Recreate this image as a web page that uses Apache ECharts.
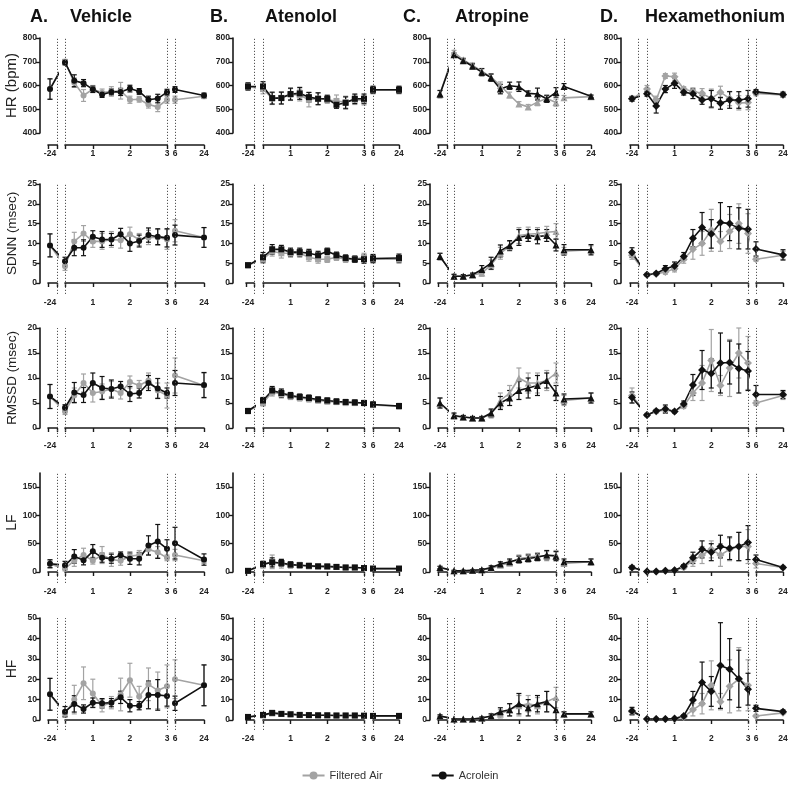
<!DOCTYPE html>
<html><head><meta charset="utf-8">
<script src="https://cdn.jsdelivr.net/npm/echarts@6/dist/echarts.min.js"></script>
<style>html,body{margin:0;padding:0;background:#fff}#c{width:800px;height:793px}</style>
</head><body><div id="c"></div><script>
// ---------- data ----------
const times = [-24, 0.25, 0.5, 0.75, 1, 1.25, 1.5, 1.75, 2, 2.25, 2.5, 2.75, 3, 6, 24];
const treatments = ['Vehicle', 'Atenolol', 'Atropine', 'Hexamethonium'];
const letters = ['A.', 'B.', 'C.', 'D.'];
const measures = ['HR (bpm)', 'SDNN (msec)', 'RMSSD (msec)', 'LF', 'HF'];
const yMins = [400, 0, 0, 0, 0];
const yMaxs = [800, 25, 20, 175, 50];
const yTickLabels = [
  [400, 500, 600, 700, 800],
  [0, 5, 10, 15, 20, 25],
  [0, 5, 10, 15, 20],
  [0, 50, 100, 150],
  [0, 10, 20, 30, 40, 50]
];
const seg1Labels = [-24];
const seg2Labels = [1, 2, 3];
const seg3Labels = [6, 24];

// HR
const A_HR_air = [585, 700, 612, 558, 585, 570, 575, 578, 540, 542, 520, 510, 540, 540, 555];
const A_HR_airErr = [43, 10, 20, 25, 15, 15, 20, 35, 15, 12, 15, 20, 15, 15, 10];
const A_HR_acr = [585, 697, 620, 610, 584, 562, 573, 573, 587, 575, 540, 545, 572, 583, 558];
const A_HR_acrErr = [43, 10, 25, 15, 13, 12, 12, 15, 14, 12, 15, 18, 12, 12, 10];
const B_HR_air = [596, 585, 545, 548, 562, 560, 540, 545, 540, 535, 530, 540, 538, 580, 580];
const B_HR_airErr = [15, 20, 25, 25, 25, 25, 30, 25, 15, 25, 25, 20, 20, 15, 15];
const B_HR_acr = [596, 596, 547, 547, 564, 567, 551, 544, 544, 519, 527, 544, 544, 582, 582];
const B_HR_acrErr = [15, 20, 25, 25, 25, 25, 20, 25, 15, 15, 25, 20, 20, 15, 15];
const C_HR_air = [564, 740, 708, 685, 660, 635, 600, 560, 522, 510, 530, 545, 528, 548, 553];
const C_HR_airErr = [15, 8, 8, 10, 12, 15, 15, 12, 10, 10, 15, 12, 15, 10, 5];
const C_HR_acr = [564, 729, 704, 681, 656, 633, 585, 599, 595, 567, 564, 544, 571, 596, 555];
const C_HR_acrErr = [15, 8, 8, 10, 15, 15, 20, 15, 20, 10, 25, 15, 20, 12, 5];
const D_HR_air = [544, 585, 540, 640, 637, 585, 575, 567, 545, 572, 545, 527, 528, 567, 560];
const D_HR_airErr = [10, 15, 15, 10, 15, 10, 15, 20, 40, 25, 30, 30, 30, 10, 8];
const D_HR_acr = [544, 565, 514, 585, 610, 572, 565, 539, 544, 525, 539, 539, 544, 573, 562];
const D_HR_acrErr = [10, 10, 30, 15, 22, 12, 20, 18, 35, 25, 35, 35, 35, 10, 10];
// SDNN
const A_SDNN_air = [9.5, 4.2, 10.5, 12.5, 10.5, 10.5, 11, 10.8, 12.3, 11, 11.5, 11.5, 11, 13.2, 11.5];
const A_SDNN_airErr = [2.9, 1, 2.3, 2, 1.5, 2, 2, 2, 1.8, 1.5, 1.8, 2, 2.5, 2.8, 2.5];
const A_SDNN_acr = [9.5, 5.5, 8.9, 8.9, 11.7, 11, 11, 12.3, 10, 10.6, 12.1, 11.7, 11.4, 12.1, 11.5];
const A_SDNN_acrErr = [2.9, 1, 2, 2, 1.5, 2, 1.5, 1.5, 2, 1.5, 1.8, 2, 2.3, 2.5, 2.5];
const B_SDNN_air = [4.5, 6.0, 8.0, 7.5, 7.5, 7.5, 6.5, 6.0, 6.0, 6.5, 6.0, 6.0, 6.5, 6.0, 6.0];
const B_SDNN_airErr = [0.6, 1, 1.2, 1.2, 1, 1, 1, 1, 0.8, 0.8, 0.8, 0.8, 1, 1, 1];
const B_SDNN_acr = [4.5, 6.5, 8.5, 8.5, 7.8, 7.8, 7.5, 7.0, 8.0, 7.0, 6.3, 6.0, 6.0, 6.2, 6.3];
const B_SDNN_acrErr = [0.6, 1.2, 1.2, 1, 1, 1, 1, 1, 0.8, 0.8, 0.8, 0.8, 1, 1, 1];
const C_SDNN_air = [6.7, 1.7, 1.7, 2.0, 2.5, 4.6, 7.5, 9.3, 12.0, 12.3, 12.5, 12.8, 13.0, 8.0, 8.4];
const C_SDNN_airErr = [0.8, 0.4, 0.4, 0.4, 0.8, 1.2, 1.5, 1.2, 2, 1.8, 1.5, 1.5, 2, 1, 1];
const C_SDNN_acr = [6.7, 1.7, 1.7, 2.1, 3.4, 5.0, 8.1, 9.5, 11.5, 12.0, 11.7, 12.0, 9.6, 8.4, 8.4];
const C_SDNN_acrErr = [0.8, 0.5, 0.4, 0.4, 1, 1.5, 1.5, 1.2, 2, 1.5, 1.8, 1.5, 1.5, 1.3, 1.3];
const D_SDNN_air = [7.0, 2.1, 2.3, 2.8, 3.6, 6.0, 8.5, 10.0, 13.3, 10.5, 13.0, 15.0, 12.5, 6.0, 7.0];
const D_SDNN_airErr = [1, 0.3, 0.3, 0.6, 0.8, 1, 2.5, 3, 5.3, 2.5, 4.3, 5, 5, 0.5, 1];
const D_SDNN_acr = [7.7, 2.1, 2.4, 3.6, 4.3, 6.7, 11.3, 14.0, 12.4, 15.3, 15.0, 13.8, 13.6, 8.6, 7.1];
const D_SDNN_acrErr = [1.2, 0.3, 0.3, 0.8, 1, 1, 2.2, 3.8, 3.6, 5, 4.3, 5.2, 5, 1.8, 1.3];
// RMSSD
const A_RMSSD_air = [6.3, 3.3, 6.5, 9.0, 7.0, 7.3, 7.8, 7.0, 9.2, 8.5, 9.5, 7.5, 6.5, 10.5, 8.5];
const A_RMSSD_airErr = [2.4, 0.6, 1.5, 1.8, 1.8, 1.5, 1.5, 1.2, 1.2, 1, 1.5, 1.5, 2.5, 3.5, 2.5];
const A_RMSSD_acr = [6.3, 4.05, 7.1, 6.6, 9.0, 8.0, 7.8, 8.3, 6.8, 7.0, 9.0, 7.9, 7.0, 9.0, 8.6];
const A_RMSSD_acrErr = [2.4, 0.6, 2, 1.5, 2, 2.3, 1.8, 1, 1.5, 1, 1.5, 2, 1, 2.5, 2.5];
const B_RMSSD_air = [3.4, 5.0, 7.2, 6.8, 6.3, 6.0, 5.8, 5.5, 5.3, 5.2, 5.0, 5.0, 5.0, 4.6, 4.3];
const B_RMSSD_airErr = [0.5, 0.6, 0.8, 0.8, 0.6, 0.6, 0.6, 0.5, 0.5, 0.5, 0.5, 0.5, 0.5, 0.5, 0.5];
const B_RMSSD_acr = [3.4, 5.5, 7.5, 7.0, 6.5, 6.2, 6.0, 5.7, 5.5, 5.3, 5.2, 5.1, 5.0, 4.7, 4.4];
const B_RMSSD_acrErr = [0.5, 0.6, 0.8, 0.8, 0.6, 0.6, 0.6, 0.5, 0.5, 0.5, 0.5, 0.5, 0.5, 0.5, 0.5];
const C_RMSSD_air = [5.0, 2.3, 2.2, 2.0, 2.0, 2.8, 5.5, 7.0, 10.0, 9.0, 9.0, 9.5, 11.0, 5.5, 6.0];
const C_RMSSD_airErr = [1, 0.5, 0.3, 0.3, 0.3, 0.8, 1.5, 1.5, 2, 2, 2, 2, 2, 1, 1];
const C_RMSSD_acr = [5.0, 2.5, 2.2, 2.0, 2.0, 3.0, 5.0, 6.0, 7.5, 8.0, 8.5, 9.5, 7.0, 5.8, 6.0];
const C_RMSSD_acrErr = [1, 0.5, 0.3, 0.3, 0.3, 0.8, 1.3, 1.5, 1.8, 2, 2, 1.5, 1.5, 1, 1];
const D_RMSSD_air = [6.5, 2.6, 3.3, 3.6, 3.3, 4.4, 7.0, 9.0, 13.5, 8.5, 12.0, 15.0, 13.0, 5.0, 6.5];
const D_RMSSD_airErr = [1.5, 0.3, 0.3, 0.6, 0.3, 0.5, 1.5, 3.5, 6.2, 2, 5.7, 5, 5.3, 0.5, 0.8];
const D_RMSSD_acr = [6.1, 2.6, 3.4, 3.8, 3.3, 4.8, 8.6, 11.6, 10.9, 13.0, 13.1, 11.9, 11.4, 6.7, 6.7];
const D_RMSSD_acrErr = [1.1, 0.3, 0.3, 0.8, 0.3, 0.6, 2.1, 3.9, 2.9, 6, 4.3, 4.9, 3.9, 1.8, 0.8];
// LF
const A_LF_air = [14, 6, 20, 30, 20, 30, 22, 20, 28, 30, 40, 35, 25, 30, 20];
const A_LF_airErr = [7, 4, 10, 12, 6, 15, 12, 8, 8, 8, 10, 10, 5, 10, 5];
const A_LF_acr = [14.7, 11.8, 27.6, 20.6, 36.5, 25.3, 23.5, 29.4, 23.5, 23.5, 47, 54, 41, 51, 22];
const A_LF_acrErr = [7, 7, 12, 8, 12, 8, 8, 6, 10, 11, 17, 30, 16, 28, 10];
const B_LF_air = [2, 12, 18, 15, 12, 12, 10, 10, 9, 9, 8, 8, 7, 6, 6];
const B_LF_airErr = [1, 5, 12, 8, 5, 5, 4, 4, 3, 3, 3, 3, 3, 2, 2];
const B_LF_acr = [2, 14, 17, 16, 13, 12, 11, 10, 10, 9, 8, 8, 7, 6, 6];
const B_LF_acrErr = [1, 5, 8, 6, 5, 4, 4, 3, 3, 3, 3, 3, 2, 2, 2];
const C_LF_air = [8, 2, 2, 3, 4, 6, 12, 16, 24, 26, 28, 28, 30, 15, 18];
const C_LF_airErr = [2, 1, 1, 1, 2, 3, 4, 5, 6, 6, 6, 8, 8, 5, 5];
const C_LF_acr = [8, 2, 2, 3, 4, 8, 14, 18, 22, 24, 26, 30, 28, 18, 18];
const C_LF_acrErr = [2, 1, 1, 1, 2, 3, 4, 5, 6, 6, 6, 8, 8, 5, 5];
const D_LF_air = [8, 1, 1, 2, 3, 8, 20, 30, 40, 30, 40, 45, 45, 15, 8];
const D_LF_airErr = [3, 0.5, 0.5, 1, 1, 3, 10, 15, 15, 20, 20, 25, 30, 8, 2];
const D_LF_acr = [8, 1, 1, 2, 3, 10, 25, 40, 35, 45, 42, 45, 52, 22, 8];
const D_LF_acrErr = [3, 0.5, 0.5, 1, 1, 3, 10, 15, 15, 20, 20, 25, 30, 8, 2];
// HF
const A_HF_air = [12.6, 3, 10, 18, 13, 7, 8.5, 12.5, 19.5, 11.5, 17.5, 14.5, 16.5, 20, 17];
const A_HF_airErr = [7.8, 1.5, 7, 8, 7, 3, 3, 8, 8.3, 5, 8, 9, 10.5, 9.5, 10];
const A_HF_acr = [12.6, 4.1, 7.9, 5.4, 8.5, 8.2, 8.5, 11.1, 7.0, 7.0, 12.3, 12.3, 11.8, 8.2, 17];
const A_HF_acrErr = [7.8, 2.5, 4, 2, 2.3, 2.3, 2, 3, 3, 2, 6.8, 7.5, 5, 3.5, 10];
const B_HF_air = [1.5, 2.2, 3.2, 3, 2.8, 2.5, 2.4, 2.3, 2.3, 2.2, 2.2, 2.2, 2.1, 2.0, 2.0];
const B_HF_airErr = [0.4, 0.6, 0.8, 0.8, 0.6, 0.6, 0.5, 0.5, 0.5, 0.5, 0.5, 0.5, 0.5, 0.4, 0.4];
const B_HF_acr = [1.5, 2.5, 3.5, 3, 2.8, 2.5, 2.4, 2.3, 2.3, 2.2, 2.2, 2.2, 2.1, 2.0, 2.0];
const B_HF_acrErr = [0.4, 0.6, 0.8, 0.8, 0.6, 0.6, 0.5, 0.5, 0.5, 0.5, 0.5, 0.5, 0.5, 0.4, 0.4];
const C_HF_air = [2, 0.5, 0.5, 0.5, 1, 2, 3, 5, 7, 8, 7, 9, 11, 3, 3];
const C_HF_airErr = [0.5, 0.2, 0.2, 0.2, 0.5, 1, 2, 3, 5, 4, 4, 5, 5, 1, 1];
const C_HF_acr = [2, 0.5, 0.5, 0.5, 1, 2, 4, 5, 8, 6, 8, 9, 5, 3, 3];
const C_HF_acrErr = [0.5, 0.2, 0.2, 0.2, 0.5, 1, 2, 3, 5, 4, 4, 5, 5, 1, 1];
const D_HF_air = [4.0, 0.5, 0.5, 0.5, 0.5, 1.5, 5, 8, 17, 9, 16.5, 20, 17, 2, 3.5];
const D_HF_airErr = [1.5, 0.2, 0.2, 0.2, 0.2, 0.5, 3, 5, 12, 4, 13, 15.5, 12.5, 0.5, 0.5];
const D_HF_acr = [4.4, 0.5, 0.5, 0.5, 0.7, 2.0, 9.8, 18.4, 14, 26.7, 24.9, 20.2, 15.1, 5.7, 4.1];
const D_HF_acrErr = [1.8, 0.2, 0.2, 0.2, 0.3, 0.5, 4.2, 10, 7.3, 21, 15, 14, 7.8, 1.5, 0.8];

const TABLE = [
  [[A_HR_air, A_HR_airErr, A_HR_acr, A_HR_acrErr], [B_HR_air, B_HR_airErr, B_HR_acr, B_HR_acrErr], [C_HR_air, C_HR_airErr, C_HR_acr, C_HR_acrErr], [D_HR_air, D_HR_airErr, D_HR_acr, D_HR_acrErr]],
  [[A_SDNN_air, A_SDNN_airErr, A_SDNN_acr, A_SDNN_acrErr], [B_SDNN_air, B_SDNN_airErr, B_SDNN_acr, B_SDNN_acrErr], [C_SDNN_air, C_SDNN_airErr, C_SDNN_acr, C_SDNN_acrErr], [D_SDNN_air, D_SDNN_airErr, D_SDNN_acr, D_SDNN_acrErr]],
  [[A_RMSSD_air, A_RMSSD_airErr, A_RMSSD_acr, A_RMSSD_acrErr], [B_RMSSD_air, B_RMSSD_airErr, B_RMSSD_acr, B_RMSSD_acrErr], [C_RMSSD_air, C_RMSSD_airErr, C_RMSSD_acr, C_RMSSD_acrErr], [D_RMSSD_air, D_RMSSD_airErr, D_RMSSD_acr, D_RMSSD_acrErr]],
  [[A_LF_air, A_LF_airErr, A_LF_acr, A_LF_acrErr], [B_LF_air, B_LF_airErr, B_LF_acr, B_LF_acrErr], [C_LF_air, C_LF_airErr, C_LF_acr, C_LF_acrErr], [D_LF_air, D_LF_airErr, D_LF_acr, D_LF_acrErr]],
  [[A_HF_air, A_HF_airErr, A_HF_acr, A_HF_acrErr], [B_HF_air, B_HF_airErr, B_HF_acr, B_HF_acrErr], [C_HF_air, C_HF_airErr, C_HF_acr, C_HF_acrErr], [D_HF_air, D_HF_airErr, D_HF_acr, D_HF_acrErr]]
];

// ---------- layout ----------
const FONT = '"Liberation Sans", Arial, Helvetica, sans-serif';
const COL = [
  {yAx: 40, p24: 50, s1: [48, 57], s2: [65, 167], s3: [175, 204]},
  {yAx: 233, p24: 248, s1: [246, 254], s2: [263, 364], s3: [373, 399]},
  {yAx: 430, p24: 440, s1: [438, 447], s2: [454, 556], s3: [564, 591]},
  {yAx: 621, p24: 632, s1: [630, 638], s2: [647, 748], s3: [756, 783]}
];
// top = pixel of yMax, bot = pixel of yMin, ax = pixel of x axis line
const ROW = [
  {top: 38, bot: 133, ax: 145, nameSize: 15},
  {top: 184, bot: 283, ax: 294, nameSize: 13.5},
  {top: 328, bot: 428, ax: 437, nameSize: 13.5},
  {top: 473, bot: 572, ax: 583, nameSize: 14},
  {top: 618, bot: 720, ax: 730, nameSize: 14}
];
const SYMBOLS = ['circle', 'rect', 'triangle', 'diamond'];
const SYMSIZE = [6, 6, 7, 8];
const AIR = '#a3a3a3', ACR = '#111111', AXC = '#1a1a1a';

// piecewise (broken) time axis -> display coordinate
function dispX(c, t) {
  const L = COL[c];
  if (t < 0) return L.p24;
  if (t <= 3) return L.s2[0] + (t - 0.25) / 2.75 * (L.s2[1] - L.s2[0]);
  return L.s3[0] + (t - 6) / 18 * (L.s3[1] - L.s3[0]);
}
function segOf(t) { return t < 0 ? 0 : (t <= 3 ? 1 : 2); }

function errRender(color) {
  return function (params, api) {
    const x = api.value(0), y = api.value(1), e = api.value(2);
    const p1 = api.coord([x, y + e]), p2 = api.coord([x, y - e]);
    const w = 2.5, st = {stroke: color, lineWidth: 1.2};
    return {type: 'group', children: [
      {type: 'line', shape: {x1: p1[0], y1: p1[1], x2: p2[0], y2: p2[1]}, style: st},
      {type: 'line', shape: {x1: p1[0] - w, y1: p1[1], x2: p1[0] + w, y2: p1[1]}, style: st},
      {type: 'line', shape: {x1: p2[0] - w, y1: p2[1], x2: p2[0] + w, y2: p2[1]}, style: st}
    ]};
  };
}

const grid = [], xAxis = [], yAxis = [], series = [];
const title = [];
const titleLeft = [[30, 70], [210, 265], [403, 455], [600, 645]];
for (let c = 0; c < 4; c++) {
  title.push({text: letters[c], left: titleLeft[c][0], top: 8, padding: 0, textStyle: {fontSize: 18, fontWeight: 'bold', color: '#111', fontFamily: FONT}});
  title.push({text: treatments[c], left: titleLeft[c][1], top: 8, padding: 0, textStyle: {fontSize: 18, fontWeight: 'bold', color: '#111', fontFamily: FONT}});
}

let gi = 0;
const axisLineStyle = {color: AXC, width: 1.6};
for (let r = 0; r < 5; r++) {
  const R = ROW[r];
  const yMin = yMins[r], yMax = yMaxs[r];
  const yMinExt = yMax - (yMax - yMin) * (R.ax - R.top) / (R.bot - R.top);
  for (let c = 0; c < 4; c++) {
    const C = COL[c];
    const [airV, airE, acrV, acrE] = TABLE[r][c];
    // y-axis-only grid
    grid.push({left: C.yAx, top: R.top, width: 1, height: R.bot - R.top, outerBoundsMode: 'none', containLabel: false});
    xAxis.push({gridIndex: gi, type: 'value', show: false, min: 0, max: 1});
    yAxis.push({
      gridIndex: gi, type: 'value', min: yMin, max: yMax,
      axisLine: {show: true, lineStyle: axisLineStyle},
      axisTick: {show: true, length: 4, customValues: yTickLabels[r], lineStyle: {color: AXC, width: 1.4}},
      axisLabel: {customValues: yTickLabels[r], fontSize: 8.5, fontWeight: 'bold', color: '#222', margin: 3, fontFamily: FONT},
      splitLine: {show: false},
      name: c === 0 ? measures[r] : '', nameLocation: 'middle', nameGap: 21,
      nameTextStyle: {fontSize: R.nameSize, color: '#222', fontFamily: FONT}
    });
    gi++;
    const segs = [C.s1, C.s2, C.s3];
    const segLabelTimes = [seg1Labels, seg2Labels, seg3Labels];
    for (let s = 0; s < 3; s++) {
      const seg = segs[s];
      grid.push({left: seg[0], top: R.top, width: seg[1] - seg[0], height: R.ax - R.top, outerBoundsMode: 'none', containLabel: false});
      const labTimes = segLabelTimes[s];
      const labPos = labTimes.map(t => dispX(c, t));
      const tickPos = s === 1 ? [seg[0]].concat(labPos) : [seg[0], seg[1]];
      xAxis.push({
        gridIndex: gi, type: 'value', min: seg[0], max: seg[1],
        axisLine: {show: true, lineStyle: axisLineStyle},
        axisTick: {show: true, length: 4, customValues: tickPos, lineStyle: {color: AXC, width: 1.4}},
        axisLabel: {
          show: true, customValues: labPos, fontSize: 8.5, fontWeight: 'bold', color: '#222', margin: 4, fontFamily: FONT,
          formatter: function (v) {
            for (let k = 0; k < labPos.length; k++) if (Math.abs(labPos[k] - v) < 0.01) return String(labTimes[k]);
            return '';
          }
        },
        splitLine: {show: false}
      });
      yAxis.push({gridIndex: gi, type: 'value', show: false, min: yMinExt, max: yMax});
      const mlVals = s === 0 ? [seg[1]] : (s === 1 ? [seg[0], seg[1]] : [seg[0]]);
      const groupsDef = [[airV, airE, AIR, 'Filtered Air'], [acrV, acrE, ACR, 'Acrolein']];
      groupsDef.forEach(([vals, errs, color, name], gIdx) => {
        const errData = [];
        times.forEach((t, i) => { if (segOf(t) === s) errData.push([dispX(c, t), vals[i], errs[i]]); });
        const errSeries = {
          type: 'custom', xAxisIndex: gi, yAxisIndex: gi, silent: true,
          renderItem: errRender(color), data: errData, animation: false, z: 2
        };
        if (gIdx === 0) {
          errSeries.markLine = {
            silent: true, symbol: ['none', 'none'], label: {show: false}, animation: false,
            lineStyle: {type: [1.2, 1.8], color: '#555', width: 1},
            emphasis: {disabled: true},
            data: mlVals.map(v => ({xAxis: v}))
          };
        }
        series.push(errSeries);
        series.push({
          type: 'line', name: name, xAxisIndex: gi, yAxisIndex: gi, silent: true, clip: true,
          symbol: SYMBOLS[c], symbolSize: SYMSIZE[c], showSymbol: true, animation: false, z: 3,
          itemStyle: {color: color}, lineStyle: {color: color, width: 1.6},
          emphasis: {disabled: true},
          data: times.map((t, i) => segOf(t) === s ? [dispX(c, t), vals[i]] : {value: [dispX(c, t), vals[i]], symbol: 'none'})
        });
      });
      gi++;
    }
  }
}

const chart = echarts.init(document.getElementById('c'), null, {renderer: 'canvas'});
chart.setOption({
  backgroundColor: '#ffffff',
  animation: false,
  title: title,
  legend: {
    data: ['Filtered Air', 'Acrolein'], top: 765, left: 'center', itemGap: 48,
    itemWidth: 22, itemHeight: 10, selectedMode: false,
    textStyle: {fontSize: 11, color: '#333', fontFamily: FONT}
  },
  grid: grid, xAxis: xAxis, yAxis: yAxis, series: series
});
</script></body></html>
